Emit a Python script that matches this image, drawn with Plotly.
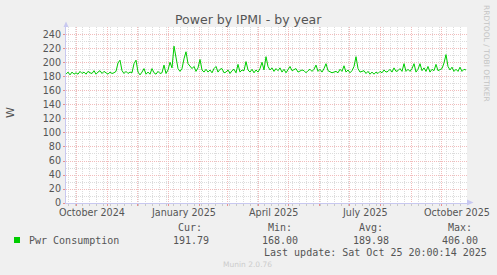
import datetime as dt
import plotly.graph_objects as go

# ---------------- data ----------------
start = dt.datetime(2024, 9, 20, 20, 0)
step_days = 2
power_w = [
    184, 187, 183, 187, 184, 186, 184, 188, 185, 187, 184, 188, 186, 185, 189, 184, 187, 189, 185, 188,
    186, 184, 187, 185, 186, 188, 200, 204, 189, 185, 188, 185, 187, 186, 199, 204, 187, 183, 187, 192,
    184, 187, 184, 192, 186, 184, 188, 185, 186, 197, 185, 190, 201, 193, 224, 208, 192, 188, 192, 206,
    216, 199, 196, 192, 195, 188, 193, 205, 190, 187, 191, 187, 190, 186, 192, 195, 187, 191, 192, 186,
    187, 190, 185, 189, 191, 186, 198, 187, 190, 189, 202, 190, 187, 191, 186, 190, 187, 192, 201, 190,
    209, 195, 190, 193, 188, 192, 189, 193, 187, 191, 186, 190, 195, 189, 190, 192, 187, 188, 190, 189,
    186, 189, 191, 188, 191, 197, 188, 191, 187, 192, 199, 189, 188, 186, 187, 188, 186, 191, 188, 196,
    187, 190, 186, 189, 195, 209, 192, 187, 188, 189, 185, 188, 184, 187, 184, 187, 185, 188, 186, 190,
    187, 188, 191, 187, 193, 188, 189, 192, 188, 199, 188, 191, 188, 192, 199, 187, 191, 199, 189, 193,
    188, 195, 187, 191, 189, 198, 189, 190, 192, 200, 212, 195, 190, 194, 188, 191, 188, 194, 188, 191,
    190,
]
dates = [start + dt.timedelta(days=step_days * i) for i in range(len(power_w))]

x_range = [dt.datetime(2024, 9, 20, 20, 0), dt.datetime(2025, 10, 26, 20, 0)]
y_range = [0, 251.4]
y_ticks = list(range(0, 241, 20))
m_y, m_m = 2024, 10
month_starts = []
while (m_y, m_m) <= (2025, 10):
    month_starts.append(dt.datetime(m_y, m_m, 1))
    m_m += 1
    if m_m > 12:
        m_m, m_y = 1, m_y + 1
week_lines = []
d = dt.datetime(2024, 9, 23)
while d < x_range[1]:
    week_lines.append(d)
    d += dt.timedelta(days=7)
x_label_dates = [dt.datetime(2024, 10, 16, 12), dt.datetime(2025, 1, 16, 12), dt.datetime(2025, 4, 16),
                 dt.datetime(2025, 7, 16, 12), dt.datetime(2025, 10, 16, 12)]
x_label_text = ["October 2024", "January 2025", "April 2025", "July 2025", "October 2025"]

title = "Power by IPMI - by year"
series_name = "Pwr Consumption"
cur_v, min_v, avg_v, max_v = "191.79", "168.00", "189.98", "406.00"
last_update = "Last update: Sat Oct 25 20:00:14 2025"

# ---------------- layout geometry ----------------
W, H = 497, 275
L, R, T, B = 66, 467, 27, 203
TXT = "#555555"
SANS = "DejaVu Sans"
MONO = "DejaVu Sans Mono"
MGRID = "#F2BCBC"
GRID = "#DCDCDC"


def px(x):
    return (x - L) / (R - L)


def py(y):
    return (B - y) / (B - T)


fig = go.Figure()
fig.add_trace(go.Scatter(x=dates, y=power_w, mode="lines",
                         line=dict(color="#00CC00", width=1), hoverinfo="skip", showlegend=False))

fig.update_layout(
    width=W, height=H,
    margin=dict(l=L, r=W - R, t=T, b=H - B, pad=0),
    paper_bgcolor="#F0F0F0", plot_bgcolor="#FFFFFF",
    showlegend=False,
    xaxis=dict(
        range=x_range, type="date",
        tickmode="array", tickvals=month_starts, ticktext=[""] * len(month_starts),
        showticklabels=False,
        showgrid=True, gridcolor=MGRID, griddash="1px,1px", gridwidth=1,
        ticks="outside", ticklen=2, tickcolor="#E89090",
        minor=dict(tickmode="array", tickvals=week_lines, showgrid=True,
                   gridcolor=GRID, griddash="1px,1px", gridwidth=1,
                   ticks="outside", ticklen=2, tickcolor="#C8C8C8"),
        showline=True, linecolor="#C8C8F0", linewidth=1,
        zeroline=False, fixedrange=True,
    ),
    yaxis=dict(
        range=y_range, tickmode="array", tickvals=y_ticks,
        ticktext=[str(v) for v in y_ticks],
        tickfont=dict(family=SANS, size=9.6, color=TXT),
        showgrid=True, gridcolor=MGRID, griddash="1px,1px", gridwidth=1,
        ticks="outside", ticklen=2, tickcolor="#E89090",
        minor=dict(dtick=10, showgrid=True, gridcolor=GRID, griddash="1px,1px", gridwidth=1),
        showline=True, linecolor="#C8C8F0", linewidth=1,
        zeroline=False, fixedrange=True, automargin=False,
    ),
)

ann = []
ann.append(dict(text=title, x=px(248), y=py(19), xref="paper", yref="paper",
                xanchor="center", yanchor="middle", showarrow=False,
                font=dict(family=SANS, size=12.5, color=TXT)))
ann.append(dict(text="W", x=px(10), y=py(113), xref="paper", yref="paper",
                xanchor="center", yanchor="middle", showarrow=False, textangle=-90,
                font=dict(family=SANS, size=11, color=TXT)))
for d_, t_ in zip(x_label_dates, x_label_text):
    ann.append(dict(text=t_, x=d_, y=py(212.8), xref="x", yref="paper",
                    xanchor="center", yanchor="middle", showarrow=False,
                    font=dict(family=SANS, size=9.6, color=TXT)))
ann.append(dict(text="RRDTOOL / TOBI OETIKER", x=px(487), y=py(53), xref="paper", yref="paper",
                xanchor="center", yanchor="middle", showarrow=False, textangle=90,
                font=dict(family=SANS, size=7.5, color="#C4C4C4")))
ann.append(dict(text="Munin 2.0.76", x=px(247), y=py(264), xref="paper", yref="paper",
                xanchor="center", yanchor="middle", showarrow=False,
                font=dict(family=SANS, size=7.5, color="#CCCCCC")))


def mono(text, x_left, y_mid):
    ann.append(dict(text=text.replace(" ", "&nbsp;"), x=px(x_left), y=py(y_mid), xref="paper", yref="paper",
                    xanchor="left", yanchor="middle", showarrow=False,
                    font=dict(family=MONO, size=10, color=TXT)))


mono(series_name, 26.5, 240)
mono("Cur:", 176, 227.5)
mono(cur_v, 170.5, 240)
mono("Min:", 266.3, 227.5)
mono(min_v, 260.3, 240)
mono("Avg:", 357, 227.5)
mono(avg_v, 351.3, 240)
mono("Max:", 446.3, 227.5)
mono(max_v, 440.3, 240)
mono(last_update, 262, 252)

fig.update_layout(annotations=ann)

shapes = []
shapes.append(dict(type="rect", xref="paper", yref="paper",
                   x0=px(14), x1=px(20), y0=py(243), y1=py(237),
                   fillcolor="#00CC00", line=dict(width=0)))
shapes.append(dict(type="path", xref="paper", yref="paper",
                   path=f"M {px(63.5)} {py(27)} L {px(68.5)} {py(27)} L {px(66)} {py(21.5)} Z",
                   fillcolor="#C8C8F0", line=dict(width=0)))
shapes.append(dict(type="path", xref="paper", yref="paper",
                   path=f"M {px(467)} {py(199.5)} L {px(467)} {py(205.5)} L {px(473.5)} {py(202.5)} Z",
                   fillcolor="#C8C8F0", line=dict(width=0)))
fig.update_layout(shapes=shapes)

fig.write_html("out.html")
